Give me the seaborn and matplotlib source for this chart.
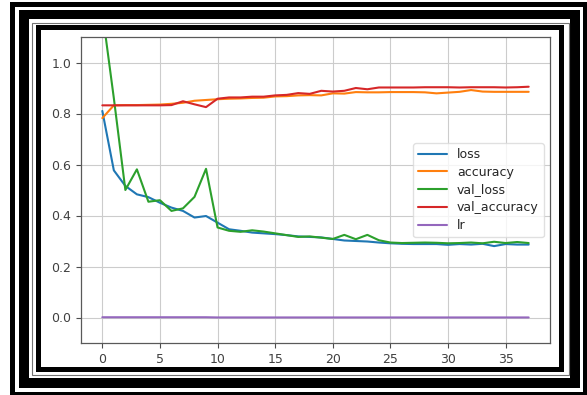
import pandas as pd
import numpy as np
import seaborn as sns
import matplotlib.pyplot as plt
from matplotlib.patches import Rectangle

# Data
epochs = list(range(38))
loss = [0.81, 0.577, 0.516, 0.483, 0.472, 0.45, 0.431, 0.418, 0.392, 0.398,
        0.372, 0.346, 0.34, 0.333, 0.33, 0.327, 0.323, 0.318, 0.316, 0.314,
        0.308, 0.302, 0.30, 0.298, 0.294, 0.291, 0.289, 0.288, 0.288, 0.288,
        0.285, 0.288, 0.286, 0.289, 0.28, 0.288, 0.286, 0.286]
accuracy = [0.782, 0.832, 0.833, 0.833, 0.834, 0.835, 0.838, 0.842, 0.85, 0.853,
            0.856, 0.858, 0.859, 0.861, 0.862, 0.867, 0.868, 0.871, 0.872, 0.871,
            0.879, 0.878, 0.884, 0.883, 0.883, 0.884, 0.884, 0.884, 0.883, 0.879,
            0.882, 0.885, 0.892, 0.886, 0.885, 0.885, 0.885, 0.885]
val_loss = [1.2, 0.86, 0.50, 0.581, 0.454, 0.46, 0.418, 0.428, 0.473, 0.583,
            0.353, 0.34, 0.336, 0.342, 0.337, 0.33, 0.323, 0.316, 0.318, 0.313,
            0.308, 0.324, 0.307, 0.324, 0.303, 0.294, 0.292, 0.293, 0.294, 0.293,
            0.291, 0.292, 0.294, 0.291, 0.297, 0.292, 0.296, 0.292]
val_accuracy = [0.832, 0.832, 0.832, 0.832, 0.832, 0.832, 0.833, 0.848, 0.836, 0.825,
                0.858, 0.863, 0.863, 0.866, 0.866, 0.871, 0.873, 0.88, 0.877, 0.889,
                0.886, 0.889, 0.9, 0.895, 0.902, 0.902, 0.902, 0.902, 0.903, 0.903,
                0.903, 0.902, 0.903, 0.903, 0.903, 0.902, 0.903, 0.905]
lr = [0.001] * 10 + [0.0002] * 28

df = pd.DataFrame({'loss': loss, 'accuracy': accuracy, 'val_loss': val_loss,
                   'val_accuracy': val_accuracy, 'lr': lr}, index=epochs)

sns.set_style('whitegrid', {'axes.edgecolor': '.35', 'grid.color': '.8',
                            'xtick.bottom': True, 'ytick.left': True,
                            'xtick.color': '.3', 'ytick.color': '.3'})
plt.rcParams['font.family'] = ['DejaVu Sans']

W, H = 587, 395
fig = plt.figure(figsize=(W / 100, H / 100), dpi=100)

# decorative nested frame (pixel boxes, top-left origin)
def box(x0, y0, x1, y1, fc, ec='none', lw=0):
    fig.patches.append(Rectangle((x0 / W, 1 - y1 / H), (x1 - x0) / W, (y1 - y0) / H,
                                 transform=fig.transFigure, facecolor=fc,
                                 edgecolor=ec, linewidth=lw, zorder=-10))

box(10, 2, 590, 398, 'black')
box(15, 7, 583, 392, 'white')
box(19, 10, 580, 388, 'black')
box(29, 19, 570, 378, 'white')
box(31.5, 22.5, 569, 375, 'white', ec='0.45', lw=0.8)
box(35.5, 25, 564, 372, 'black')
box(41, 30, 559, 367, 'white')

ax = fig.add_axes([81 / W, 1 - 343 / H, (550 - 81) / W, (343 - 37) / H])
sns.lineplot(data=df, dashes=False, palette='tab10', linewidth=1.5, ax=ax)
ax.set_ylim(-0.1, 1.1)
ax.set_xticks(range(0, 40, 5))
ax.set_yticks([0.0, 0.2, 0.4, 0.6, 0.8, 1.0])
ax.tick_params(labelsize=9, length=3.5, width=0.8, labelcolor='.25')
for s in ax.spines.values():
    s.set_linewidth(0.9)
ax.legend(loc='center right', fontsize=9, handlelength=2.3, labelspacing=0.38,
          framealpha=0.8, edgecolor='.85', fancybox=True)

fig.savefig('out.png', dpi=100)
